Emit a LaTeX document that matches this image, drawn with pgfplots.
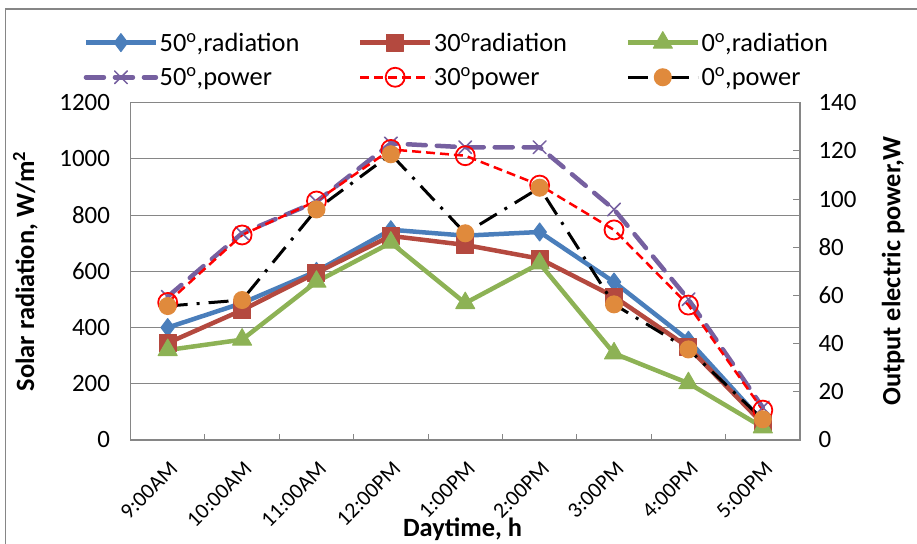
\documentclass[border=0pt]{standalone}
\usepackage{pgfplots}
\pgfplotsset{compat=1.18}
\usepackage{fontspec}
\setmainfont{Carlito}

\definecolor{rblue}{HTML}{4A7EBB}
\definecolor{rred}{HTML}{B4493F}
\definecolor{rgreen}{HTML}{8DB255}
\definecolor{ppurple}{HTML}{7660A0}
\definecolor{porange}{HTML}{E08A3C}
\definecolor{framegray}{HTML}{868686}

\pgfplotsset{
  chartbase/.style={
    scale only axis, width=669.5bp, height=337.3bp,
    at={(130.5bp,104bp)}, anchor=south west,
    xmin=-0.5, xmax=8.5, ymin=0,
    axis line style={framegray, line width=1.2bp},
    tick label style={font=\fontsize{25}{30}\selectfont,
      /pgf/number format/assume math mode=true},
    /pgf/number format/1000 sep={},
    label style={font=\bfseries\fontsize{26.5}{31}\selectfont},
  },
  leglong/.style={legend image code/.code={
      \draw[mark repeat=2,mark phase=2,##1] plot coordinates {(0bp,0bp) (35bp,0bp) (70bp,0bp)};}},
  rad50/.style={rblue, line width=4.5bp, line join=round, mark=diamond*, mark size=9bp,
    mark options={solid, fill=rblue, line width=1bp}},
  rad30/.style={rred, line width=4.5bp, line join=round, mark=square*, mark size=8.5bp,
    mark options={solid, fill=rred, line width=1bp}},
  rad0/.style={rgreen, line width=4.5bp, line join=round, mark=triangle*, mark size=11bp,
    mark options={solid, fill=rgreen, line width=1bp}},
  pow50/.style={ppurple, line width=4.5bp, dash pattern=on 18bp off 11bp, line cap=round,
    mark=x, mark size=9bp, mark options={solid, line width=1.5bp}},
  pow30/.style={red, line width=2.5bp, dash pattern=on 9bp off 5bp,
    mark=o, mark size=9.5bp, mark options={solid, line width=1.8bp}},
  pow0/.style={black, line width=3bp, dash pattern=on 20bp off 9bp on 3bp off 9bp,
    mark=*, mark size=7.5bp, mark options={solid, fill=porange, draw=porange}},
}

\begin{document}
\begin{tikzpicture}
\useasboundingbox (0,0) rectangle (917bp,544bp);
\draw[framegray, line width=1.2bp] (5.5bp,0) -- (5.5bp,535bp) -- (917bp,535bp);

% radiation, left axis
\begin{axis}[chartbase,
  ymax=1200, ytick={0,200,...,1200},
  ymajorgrids, grid style={framegray, line width=1bp},
  xtick={0,...,8},
  xticklabels={9:00AM,10:00AM,11:00AM,12:00PM,1:00PM,2:00PM,3:00PM,4:00PM,5:00PM},
  major tick length=0pt,
  minor xtick={0.5,1.5,...,7.5}, minor tick length=6bp, tick align=inside,
  minor tick style={framegray, line width=1bp},
  xtick pos=left, ytick pos=left,
  xticklabel style={xshift=1bp, rotate=45, anchor=north east, inner sep=0pt,
    font=\fontsize{22}{26}\selectfont},
  xticklabel shift=20bp,
  yticklabel shift=17bp,
  xlabel={Daytime, h},
  xlabel style={at={(axis description cs:0.496,-0.264)}, anchor=center},
  ylabel={Solar radiation, W/m\textsuperscript{2}},
  ylabel style={at={(axis description cs:-0.157,0.5)}, anchor=center},
]
\addplot[rad50] coordinates {(0,400) (1,487) (2,600) (3,748) (4,727) (5,740) (6,562) (7,355) (8,65)};
\addplot[rad30] coordinates {(0,345) (1,462) (2,595) (3,726) (4,694) (5,645) (6,510) (7,330) (8,58)};
\addplot[rad0]  coordinates {(0,320) (1,357) (2,563) (3,702) (4,487) (5,628) (6,308) (7,202) (8,45)};
\end{axis}

% power, right axis
\begin{axis}[chartbase, leglong,
  ymax=140, ytick={0,20,...,140},
  axis x line=none, axis y line*=right,
  tick align=inside, major tick length=7bp,
  tick style={framegray, line width=1bp},
  yticklabel shift=15bp,
  ylabel={Output electric power,W},
  ylabel style={at={(axis description cs:1.139,0.5)}, anchor=center},
  legend columns=3, legend cell align=left,
  legend style={at={(axis description cs:0.487,1.127)}, anchor=center,
    draw=none, fill=none, font=\fontsize{26.5}{31}\selectfont, row sep=11bp,
    nodes={inner xsep=1.5bp},
    /tikz/every even column/.append style={column sep=57bp}},
]
\addlegendimage{rad50}\addlegendentry{50\textsuperscript{o},radiation}
\addlegendimage{rad30}\addlegendentry{30\textsuperscript{o}radiation}
\addlegendimage{rad0}\addlegendentry{0\textsuperscript{o},radiation}
\addplot[pow50] coordinates {(0,59.5) (1,85.8) (2,98.9) (3,123.1) (4,121.5) (5,121.5) (6,95.7) (7,58.4) (8,13.5)};
\addlegendentry{50\textsuperscript{o},power}
\addplot[pow30] coordinates {(0,57.1) (1,85.1) (2,99.2) (3,120.6) (4,118) (5,105.8) (6,87.2) (7,56) (8,12.4)};
\addlegendentry{30\textsuperscript{o}power}
\addplot[pow0] coordinates {(0,55.6) (1,58.1) (2,95.7) (3,118.6) (4,85.8) (5,104.7) (6,56.3) (7,37.6) (8,8.6)};
\addlegendentry{0\textsuperscript{o},power}
\end{axis}
\end{tikzpicture}
\end{document}
